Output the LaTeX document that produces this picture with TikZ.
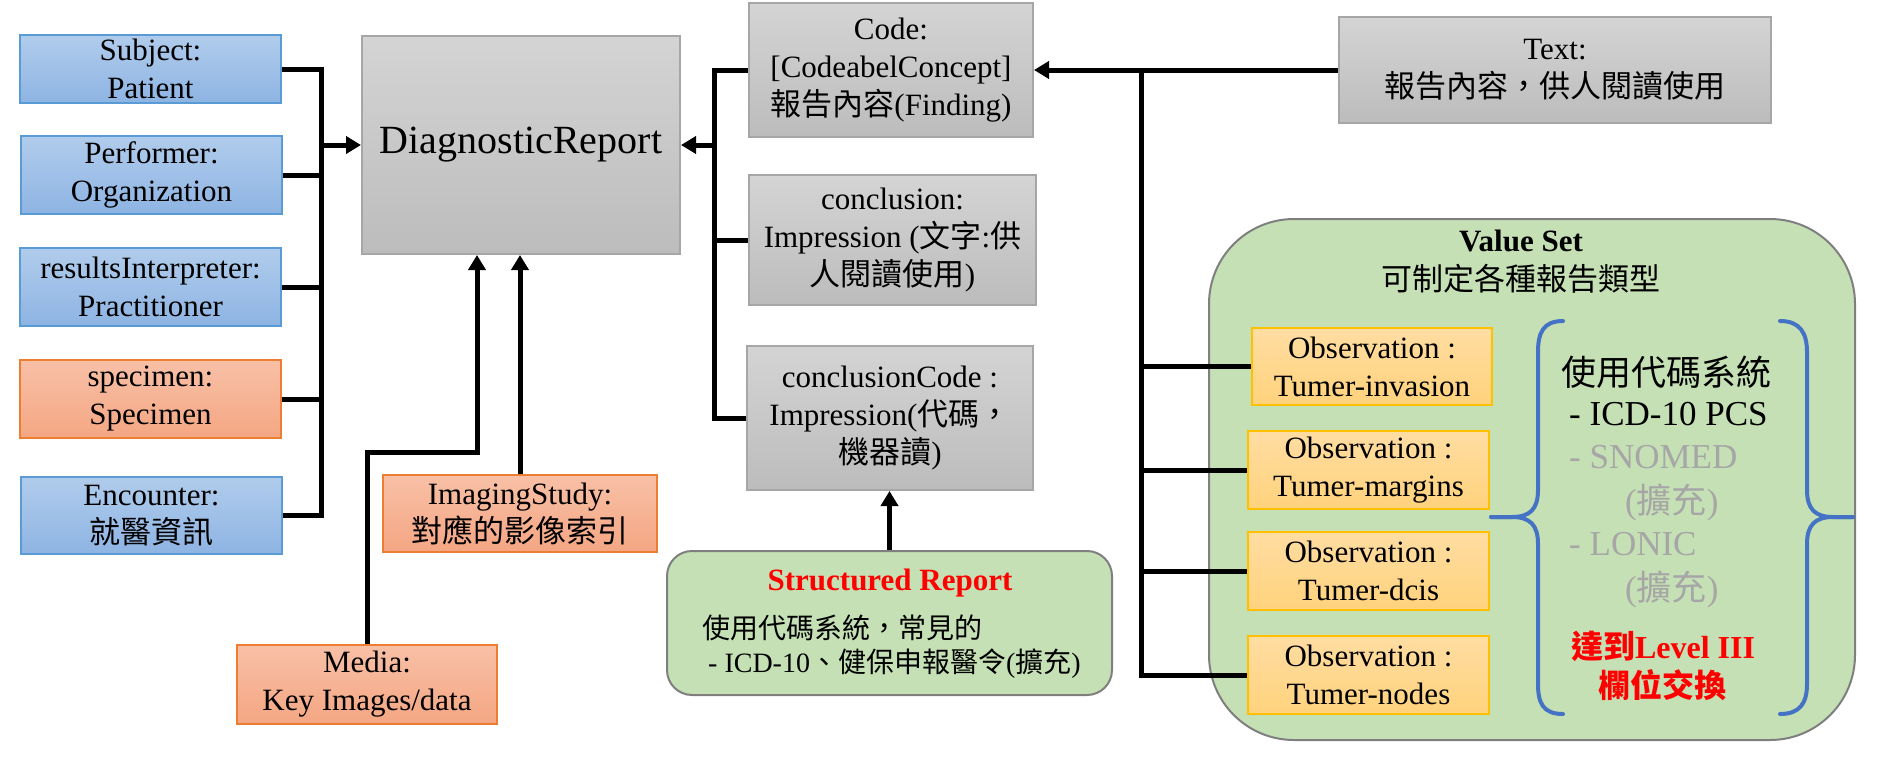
\documentclass[tikz,border=0pt]{standalone}
\usepackage{fontspec}
\setmainfont{Liberation Serif}
\newfontfamily\cjk{Noto Sans CJK TC}
\newcommand{\zh}[1]{{\cjk #1}}
\usetikzlibrary{arrows.meta}
\definecolor{blueT}{HTML}{B0CCEC}
\definecolor{blueB}{HTML}{8EB4E3}
\definecolor{blueD}{HTML}{5B9BD5}
\definecolor{orangeT}{HTML}{F8C0A6}
\definecolor{orangeB}{HTML}{F4A683}
\definecolor{orangeD}{HTML}{ED7D31}
\definecolor{grayT}{HTML}{D4D4D4}
\definecolor{grayB}{HTML}{BCBCBC}
\definecolor{grayD}{HTML}{A6A6A6}
\definecolor{obsT}{HTML}{FFDDA2}
\definecolor{obsB}{HTML}{FFD27C}
\definecolor{obsD}{HTML}{FFC000}
\definecolor{greenF}{HTML}{C5E0B4}
\definecolor{greenD}{HTML}{7F7F7F}
\definecolor{braceC}{HTML}{4472C4}
\definecolor{txtgray}{HTML}{A6A6A6}
\definecolor{redT}{HTML}{FF0000}
\begin{document}
\begin{tikzpicture}[x=1pt,y=-1pt,
  box/.style={draw, line width=2pt, inner sep=0pt, align=center, font=\fontsize{31}{38}\selectfont},
  bluebox/.style={box, draw=blueD, top color=blueT, bottom color=blueB},
  orangebox/.style={box, draw=orangeD, top color=orangeT, bottom color=orangeB},
  graybox/.style={box, draw=grayD, top color=grayT, bottom color=grayB},
  obsbox/.style={box, draw=obsD, top color=obsT, bottom color=obsB, minimum width=241pt, minimum height=78pt},
  greenbox/.style={draw=greenD, fill=greenF, line width=2pt, inner sep=0pt},
  conn/.style={line width=5pt, draw=black},
  arrowline/.style={conn, -{Triangle[length=15pt,width=17pt]}},
  bracestyle/.style={draw=braceC, line width=4pt, line cap=round},
  bracetext/.style={anchor=base west, inner sep=0pt, font=\fontsize{35}{40}\selectfont},
  redtext/.style={anchor=base, inner sep=0pt, text=redT, font=\bfseries\fontsize{32}{38}\selectfont}
]
\useasboundingbox (0,0) rectangle (1888,756);

% left column
\node[bluebox, minimum width=261pt, minimum height=68pt] (subj) at (150.5,69) {Subject:\\Patient};
\node[bluebox, minimum width=261pt, minimum height=78pt] (perf) at (151.5,175) {Performer:\\Organization};
\node[bluebox, minimum width=261pt, minimum height=78pt] (resi) at (150.5,287) {resultsInterpreter:\\Practitioner};
\node[orangebox, minimum width=261pt, minimum height=78pt] (spec) at (150.5,399) {specimen:\\Specimen};
\node[bluebox, minimum width=261pt, minimum height=77pt] (enc) at (151.5,515.5) {Encounter:\\\zh{就醫資訊}};

% center
\node[graybox, minimum width=318pt, minimum height=218pt, font=\fontsize{40}{48}\selectfont] (dr) at (521,145) {DiagnosticReport};
\node[orangebox, minimum width=274pt, minimum height=77pt] (imaging) at (520,513.5) {ImagingStudy:\\\zh{對應的影像索引}};
\node[orangebox, minimum width=260pt, minimum height=79pt] (media) at (367,684.5) {Media:\\Key Images/data};

% right of DR
\node[graybox, minimum width=284pt, minimum height=134pt] (code) at (891,70) {Code:\\{[}CodeabelConcept{]}\\\zh{報告內容}(Finding)};
\node[graybox, minimum width=287pt, minimum height=130pt] (concl) at (892.5,240) {conclusion:\\Impression (\zh{文字}:\zh{供}\\\zh{人閱讀使用})};
\node[graybox, minimum width=286pt, minimum height=144pt] (conclcode) at (890,418) {conclusionCode :\\Impression(\zh{代碼，}\\\zh{機器讀})};
\node[graybox, minimum width=432pt, minimum height=106pt] (text) at (1555,70) {Text:\\\zh{報告內容，供人閱讀使用}};

% structured report
\node[greenbox, rounded corners=25pt, minimum width=445pt, minimum height=144pt] (sr) at (889.5,623) {};
\node[inner sep=0pt, text=redT, font=\bfseries\fontsize{31}{38}\selectfont] (srt) at (890,583) {Structured Report};
\node[anchor=base west, inner sep=0pt, font=\fontsize{28}{34}\selectfont] (srb1) at (702,638) {\zh{使用代碼系統，常見的}};
\node[anchor=base west, inner sep=0pt, font=\fontsize{28}{34}\selectfont] (srb2) at (708,672) {- ICD-10\zh{、健保申報醫令}(\zh{擴充})};

% value set
\node[greenbox, rounded corners=85pt, minimum width=646pt, minimum height=521pt] (vs) at (1532,479.5) {};
\node[inner sep=0pt, align=center, font=\fontsize{31}{39}\selectfont] (vst) at (1521,262) {\textbf{Value Set}\\\zh{可制定各種報告類型}};
\node[obsbox, minimum width=240pt, minimum height=77pt] (obs1) at (1372,366.5) {Observation :\\Tumer-invasion};
\node[obsbox] (obs2) at (1368.5,470) {Observation :\\Tumer-margins};
\node[obsbox] (obs3) at (1368.5,571) {Observation :\\Tumer-dcis};
\node[obsbox] (obs4) at (1368.5,675) {Observation :\\Tumer-nodes};

% braces
\draw[bracestyle] (1563,321) .. controls (1543,321) and (1538,333) .. (1538,352) -- (1538,490)
  .. controls (1538,509) and (1530,517) .. (1512,517) -- (1491,517);
\draw[bracestyle] (1491,517) -- (1512,517) .. controls (1530,517) and (1538,525) .. (1538,544)
  -- (1538,684) .. controls (1538,703) and (1543,714) .. (1563,714);
\draw[bracestyle] (1780,321) .. controls (1800,321) and (1807,333) .. (1807,352) -- (1807,490)
  .. controls (1807,509) and (1815,517) .. (1833,517) -- (1853,517);
\draw[bracestyle] (1853,517) -- (1833,517) .. controls (1815,517) and (1807,525) .. (1807,544)
  -- (1807,684) .. controls (1807,703) and (1800,714) .. (1780,714);

% brace texts
\node[bracetext] (bt1) at (1561,385) {\zh{使用代碼系統}};
\node[bracetext] (bt2) at (1569,425) {- ICD-10 PCS};
\node[bracetext, text=txtgray] (bt3) at (1569,468) {- SNOMED};
\node[bracetext, text=txtgray] (bt4) at (1625,513) {(\zh{擴充})};
\node[bracetext, text=txtgray] (bt5) at (1569,555) {- LONIC};
\node[bracetext, text=txtgray] (bt6) at (1625,600) {(\zh{擴充})};
\node[redtext] (rt1) at (1663,658) {\zh{達到}Level III};
\node[redtext] (rt2) at (1662,697) {\zh{欄位交換}};

% coordinates for buses
\coordinate (lb) at (321,0);
\coordinate (rb) at (714,0);
\coordinate (vb) at (1141,0);
\coordinate (mk) at (477,452);

% left bus
\draw[conn] (subj.east) -- (subj.east -| lb) -- (enc.east -| lb) -- (enc.east);
\draw[conn] (perf.east) -- (perf.east -| lb);
\draw[conn] (resi.east) -- (resi.east -| lb);
\draw[conn] (spec.east) -- (spec.east -| lb);
\draw[arrowline] (dr.west -| lb) -- (dr.west);

% right bus
\draw[conn] (code.west) -- (code.west -| rb) -- (conclcode.west -| rb) -- (conclcode.west);
\draw[conn] (concl.west) -- (concl.west -| rb);
\draw[arrowline] (dr.east -| rb) -- (dr.east);

% bottom arrows into DR
\draw[arrowline] (media.north) |- (mk) -- (mk |- dr.south);
\draw[arrowline] (imaging.north) -- (imaging.north |- dr.south);
\draw[arrowline] (sr.north) -- (sr.north |- conclcode.south);

% text to code and observations
\draw[arrowline] (text.west) -- (code.east);
\draw[conn] (code.east -| vb) -- (obs4.west -| vb) -- (obs4.west);
\draw[conn] (obs1.west -| vb) -- (obs1.west);
\draw[conn] (obs2.west -| vb) -- (obs2.west);
\draw[conn] (obs3.west -| vb) -- (obs3.west);
\end{tikzpicture}
\end{document}
